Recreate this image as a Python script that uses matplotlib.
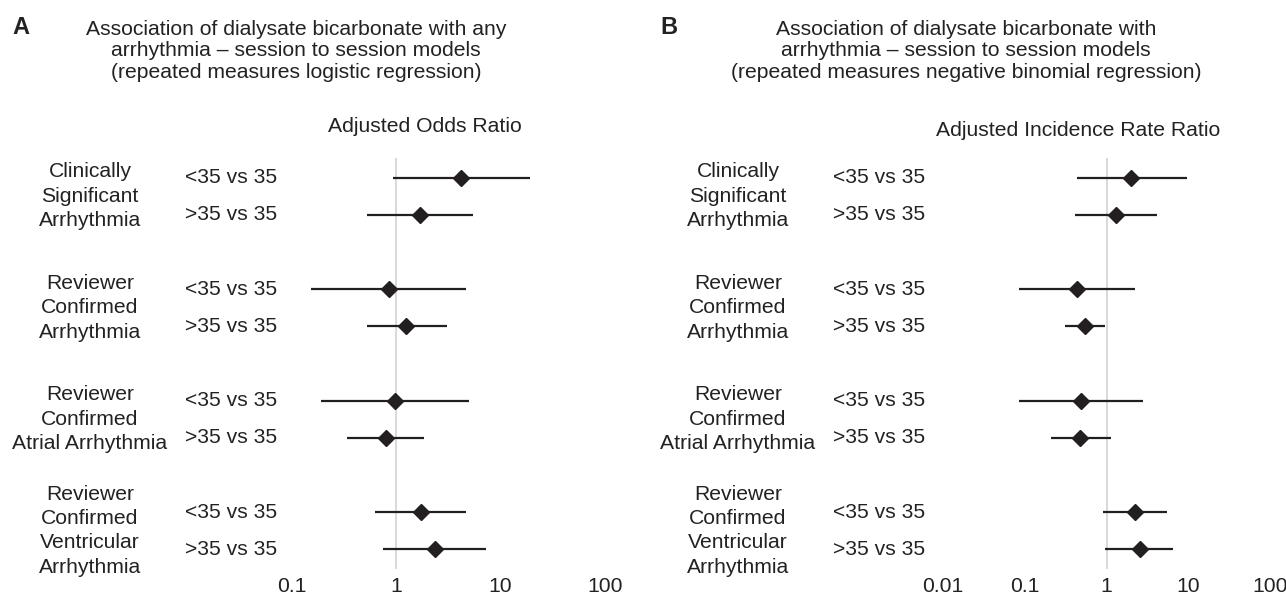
import matplotlib
matplotlib.use("Agg")
import matplotlib.pyplot as plt
from matplotlib.transforms import blended_transform_factory

plt.rcParams['font.family'] = ['Liberation Sans', 'DejaVu Sans']

groups = ["Clinically\nSignificant\nArrhythmia",
          "Reviewer\nConfirmed\nArrhythmia",
          "Reviewer\nConfirmed\nAtrial Arrhythmia",
          "Reviewer\nConfirmed\nVentricular\nArrhythmia"]
comparisons = ["<35 vs 35", ">35 vs 35"]

# panel A: adjusted odds ratio (est, lower, upper), two rows per group
or_est = [4.2, 1.70, 0.85, 1.25, 0.98, 0.79, 1.73, 2.33]
or_lo = [0.93, 0.52, 0.153, 0.52, 0.19, 0.334, 0.63, 0.75]
or_hi = [19.0, 5.46, 4.64, 3.05, 5.02, 1.83, 4.64, 7.16]

# panel B: adjusted incidence rate ratio
irr_est = [2.02, 1.31, 0.434, 0.54, 0.486, 0.476, 2.23, 2.55]
irr_lo = [0.43, 0.41, 0.086, 0.31, 0.086, 0.207, 0.91, 0.97]
irr_hi = [9.6, 4.19, 2.21, 0.95, 2.83, 1.12, 5.43, 6.5]

W, H = 1286, 599
fig = plt.figure(figsize=(W / 100, H / 100), dpi=100)
dark = '#231f20'
txt = '#222222'
fs = 15.2


def px(x, y):
    return x / W, 1 - y / H


def panel(left, right, est, lo, hi, xmin, ticks, ticklabels, glabel_x, rlabel_x):
    top, bottom = 158, 569
    ax = fig.add_axes([left / W, 1 - bottom / H, (right - left) / W, (bottom - top) / H])
    ax.set_xscale('log')
    ypos = [3 * g + r for g in range(len(groups)) for r in range(2)]
    ax.axvline(1, color='#d6d6d6', lw=1.3, zorder=1)
    ax.hlines(ypos, lo, hi, color=dark, lw=1.6, zorder=2)
    ax.plot(est, ypos, 'D', color=dark, ms=8.5, zorder=3)
    ax.set_xlim(xmin, 100)
    ax.set_ylim(max(ypos) + 0.53, -0.53)
    ax.set_xticks(ticks)
    ax.set_xticklabels(ticklabels, fontsize=fs, color=txt)
    ax.minorticks_off()
    ax.tick_params(axis='x', length=0, pad=6)
    ax.set_yticks([])
    for s in ax.spines.values():
        s.set_visible(False)
    tr = blended_transform_factory(fig.transFigure, ax.transData)
    for g, name in enumerate(groups):
        ax.text(glabel_x / W, 3 * g + 0.5, name, transform=tr, ha='center', va='center',
                fontsize=fs, linespacing=1.36, color=txt)
        for r, c in enumerate(comparisons):
            ax.text(rlabel_x / W, 3 * g + r, c, transform=tr, ha='left', va='center',
                    fontsize=fs, color=txt)
    return ax


panel(292, 605, or_est, or_lo, or_hi, 0.1, [0.1, 1, 10, 100],
      ["0.1", "1", "10", "100"], 90, 185)
panel(943, 1270, irr_est, irr_lo, irr_hi, 0.01, [0.01, 0.1, 1, 10, 100],
      ["0.01", "0.1", "1", "10", "100"], 738, 833)

fig.text(*px(12, 27), "A", fontsize=17, fontweight='bold', va='center', ha='left',
         color=txt)
fig.text(*px(296, 51),
         "Association of dialysate bicarbonate with any\n"
         "arrhythmia \u2013 session to session models\n"
         "(repeated measures logistic regression)",
         fontsize=fs, ha='center', va='center', linespacing=1.16, color=txt)
fig.text(*px(425, 127), "Adjusted Odds Ratio", fontsize=fs, ha='center', va='center',
         color=txt)

fig.text(*px(660, 27), "B", fontsize=17, fontweight='bold', va='center', ha='left',
         color=txt)
fig.text(*px(966, 51),
         "Association of dialysate bicarbonate with\n"
         "arrhythmia \u2013 session to session models\n"
         "(repeated measures negative binomial regression)",
         fontsize=fs, ha='center', va='center', linespacing=1.16, color=txt)
fig.text(*px(1078, 131), "Adjusted Incidence Rate Ratio", fontsize=fs, ha='center',
         va='center', color=txt)

fig.savefig("out.png", dpi=100)
